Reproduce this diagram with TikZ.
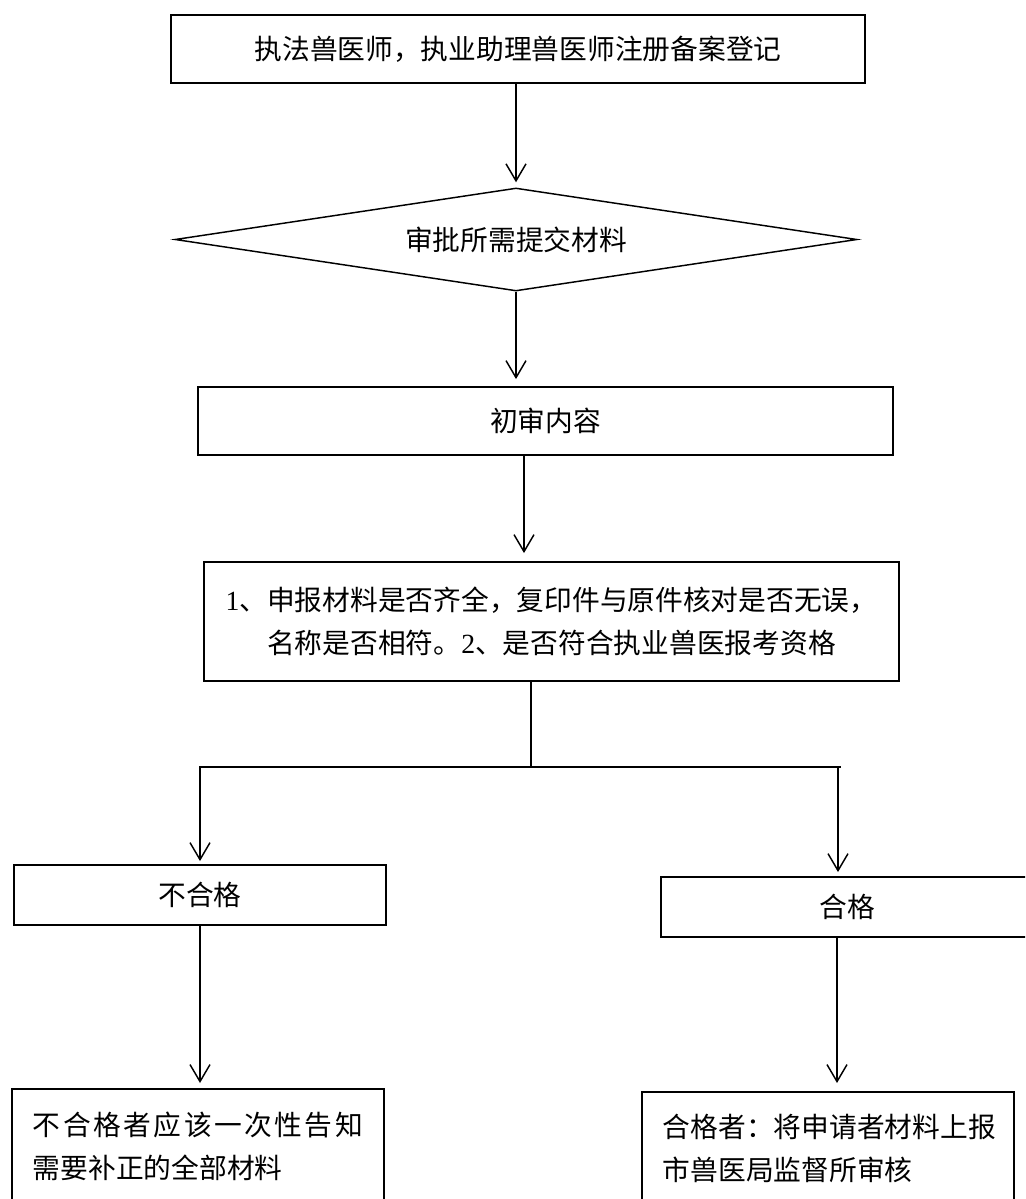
\documentclass[tikz,border=0pt]{standalone}
\usepackage{fontspec}
\setmainfont{Liberation Serif}
\newfontfamily\cjk{Noto Sans CJK SC}
\usetikzlibrary{arrows.meta,shapes.geometric}
\newdimen\px \px=0.75pt
\begin{document}
\begin{tikzpicture}[x=0.75pt,y=-0.75pt,
  every node/.style={font=\cjk\fontsize{20.8pt}{32.25pt}\selectfont, text=black},
  box/.style={draw, line width=1.4pt, rectangle, inner sep=0pt},
  arr/.style={line width=1.1pt, -{Straight Barb[length=12.75pt,width=15pt,line width=1.1pt]}},
  ln/.style={line width=1.1pt}
]
\useasboundingbox (0,0) rectangle (1025,1199);
\clip (0,0) rectangle (1025,1199);
\fill[white] (0,0) rectangle (1025,1199);

\node[box, minimum width=694\px, minimum height=68\px] (n1) at (518,49) {执法兽医师，执业助理兽医师注册备案登记};
\node[draw, diamond, aspect=6.6, line width=1.1pt, minimum width=682\px, minimum height=103\px, inner sep=0pt] (n2) at (516,239.5) {审批所需提交材料};
\node[box, minimum width=695\px, minimum height=68\px] (n3) at (545.5,421) {初审内容};
\node[box, minimum width=695\px, minimum height=119\px, align=center] (n4) at (551.5,621.5) {{\rmfamily 1}、申报材料是否齐全，复印件与原件核对是否无误，\\名称是否相符。{\rmfamily 2}、是否符合执业兽医报考资格};
\node[box, minimum width=372\px, minimum height=60\px] (n5) at (200,895) {不合格};
\node[box, minimum width=372\px, minimum height=60\px] (n6) at (847,907) {合格};
\node[box, anchor=north west, minimum width=372\px, minimum height=114\px, text width=330\px, inner xsep=21\px, inner ysep=0pt, align=left] (n7) at (11,1088) {\makebox[330\px][s]{不\hfill 合\hfill 格\hfill 者\hfill 应\hfill 该\hfill 一\hfill 次\hfill 性\hfill 告\hfill 知}\\需要补正的全部材料};
\node[box, anchor=north west, minimum width=372\px, minimum height=112\px, text width=330\px, inner xsep=21\px, inner ysep=0pt, align=left] (n8) at (641,1091) {合格者：将申请者材料上报\\市兽医局监督所审核};

\coordinate (c3) at (524,0);
\coordinate (cm) at (531,767);
\coordinate (cr) at (838,767);
\coordinate (ce) at (841,767);
\coordinate (c6) at (837,0);

\draw[arr, shorten >=5\px] (n2.north |- n1.south) -- (n2.north);
\draw[arr, shorten >=7\px] (n2.south) -- (n2.south |- n3.north);
\draw[arr, shorten >=8\px] (c3 |- n3.south) -- (c3 |- n4.north);
\draw[ln] (cm |- n4.south) -- (cm);
\draw[ln] (cm) -- (ce);
\draw[arr, shorten >=3\px] (cm) -| (n5.north);
\draw[arr, shorten >=4\px] (cm) -| (cr |- n6.north);
\draw[arr, shorten >=5\px] (n5.south) -- (n5.south |- n7.north);
\draw[arr, shorten >=8\px] (c6 |- n6.south) -- (c6 |- n8.north);
\end{tikzpicture}
\end{document}
